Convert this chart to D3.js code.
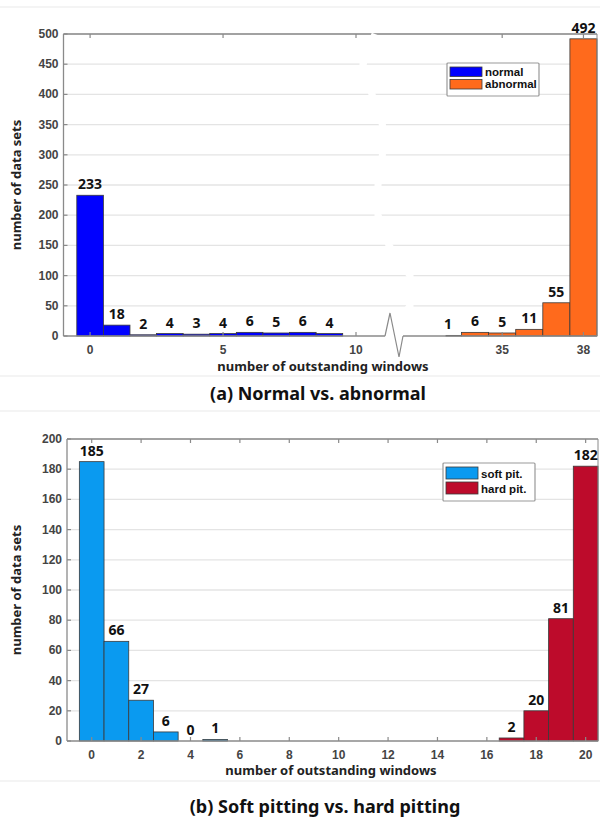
<!DOCTYPE html>
<html><head><meta charset="utf-8">
<script src="https://cdn.jsdelivr.net/npm/d3@7"></script>
<style>
body{margin:0;background:#fff;}
svg{display:block;font-family:"Noto Sans","Open Sans",sans-serif;}
</style></head>
<body><svg id="c" width="600" height="821"></svg>
<script>
// ---- Data: panel (a)
const normalBins = [0,1,2,3,4,5,6,7,8,9];
const normalCounts = [233,18,2,4,3,4,6,5,6,4];
const abnormalBins = [33,34,35,36,37,38];
const abnormalCounts = [1,6,5,11,55,492];
const aXTicks = [0,5,10,35,38];
const aYTicks = [0,50,100,150,200,250,300,350,400,450,500];
// ---- Data: panel (b)
const softBins = [0,1,2,3,4,5];
const softCounts = [185,66,27,6,0,1];
const hardBins = [17,18,19,20];
const hardCounts = [2,20,81,182];
const bXTicks = [0,2,4,6,8,10,12,14,16,18,20];
const bYTicks = [0,20,40,60,80,100,120,140,160,180,200];

const svg = d3.select("#c");
const GRID="#e4e4e4", AXIS="#8a8a8a", TICKTXT="#444", EDGE="#3a3a3a";
const tickFont = '"Liberation Sans",Arial,sans-serif';

// faint panel separators
[7,376,411,781].forEach(y=>svg.append("line").attr("x1",0).attr("x2",600).attr("y1",y).attr("y2",y)
  .attr("stroke","#f0f0f0").attr("stroke-width",1.5));

function panel(o){
  const g = svg.append("g");
  const {x,y,xTicks,yTicks,L,R,T,B} = o;
  g.selectAll(".grid").data(yTicks.filter(d=>d>0)).join("line")
    .attr("x1",L).attr("x2",R).attr("y1",d=>y(d)).attr("y2",d=>y(d))
    .attr("stroke",GRID).attr("stroke-width",1.3);
  o.series.forEach(s=>{
    g.selectAll(null).data(s.bins.map((b,i)=>({b,v:s.counts[i]}))).join("rect")
      .attr("x",d=>x(d.b-0.5)).attr("width",d=>x(d.b+0.5)-x(d.b-0.5))
      .attr("y",d=>y(d.v)).attr("height",d=>y(0)-y(d.v))
      .attr("fill",s.color).attr("stroke",EDGE).attr("stroke-width",0.8);
  });
  g.append("line").attr("x1",L).attr("x2",L).attr("y1",T).attr("y2",B).attr("stroke",AXIS).attr("stroke-width",1.3);
  g.append("line").attr("x1",L).attr("x2",R).attr("y1",B).attr("y2",B).attr("stroke",AXIS).attr("stroke-width",1.3);
  g.append("line").attr("x1",L).attr("x2",R).attr("y1",T).attr("y2",T).attr("stroke",AXIS).attr("stroke-width",1.3);
  g.append("line").attr("x1",R).attr("x2",R).attr("y1",T).attr("y2",B).attr("stroke",AXIS).attr("stroke-width",1);
  g.selectAll(null).data(xTicks).join("line").attr("x1",d=>x(d)).attr("x2",d=>x(d)).attr("y1",B).attr("y2",B-4).attr("stroke",AXIS).attr("stroke-width",1.2);
  g.selectAll(null).data(xTicks).join("line").attr("x1",d=>x(d)).attr("x2",d=>x(d)).attr("y1",T).attr("y2",T+4).attr("stroke",AXIS).attr("stroke-width",1.2);
  g.selectAll(null).data(yTicks).join("line").attr("x1",L).attr("x2",L+4).attr("y1",d=>y(d)).attr("y2",d=>y(d)).attr("stroke",AXIS).attr("stroke-width",1.2);
  g.selectAll(null).data(xTicks).join("text").attr("x",d=>x(d)).attr("y",B+18).attr("text-anchor","middle")
    .attr("font-family",tickFont).attr("font-weight","bold").attr("font-size",12).attr("fill",TICKTXT).text(d=>d);
  g.selectAll(null).data(yTicks).join("text").attr("x",L-5).attr("y",d=>y(d)+4).attr("text-anchor","end")
    .attr("font-family",tickFont).attr("font-weight","bold").attr("font-size",12).attr("fill",TICKTXT).text(d=>d);
  o.series.forEach(s=>{
    g.selectAll(null).data(s.bins.map((b,i)=>({b,v:s.counts[i]}))).join("text")
      .attr("x",d=>x(d.b)).attr("y",d=>y(d.v)-6).attr("text-anchor","middle")
      .attr("font-weight","bold").attr("font-size",14).attr("fill","#111").text(d=>d.v);
  });
  g.append("text").attr("transform",`translate(${o.ylx},${(T+B)/2}) rotate(-90)`).attr("text-anchor","middle")
    .attr("font-weight","bold").attr("font-size",13).attr("fill","#222").text("number of data sets");
  g.append("text").attr("x",o.xlx).attr("y",o.xly).attr("text-anchor","middle")
    .attr("font-weight","bold").attr("font-size",13).attr("fill","#222").text("number of outstanding windows");
  g.append("text").attr("x",o.tx).attr("y",o.ty).attr("text-anchor","middle")
    .attr("font-weight","bold").attr("font-size",18).attr("fill","#111").text(o.title);
  const lg = g.append("g").attr("transform",`translate(${o.lx},${o.ly})`);
  lg.append("rect").attr("width",o.lw).attr("height",o.lh).attr("fill","#fff").attr("stroke","#999").attr("stroke-width",1.2).attr("rx",1);
  o.series.forEach((s,i)=>{
    const yy = 4 + i*(o.lh-8)/2;
    const hh = (o.lh-8)/2 - 3;
    lg.append("rect").attr("x",3).attr("y",yy).attr("width",32).attr("height",hh).attr("fill",s.color).attr("stroke",EDGE).attr("stroke-width",0.8);
    lg.append("text").attr("x",38).attr("y",yy+hh-1).attr("font-family",tickFont).attr("font-weight","bold").attr("font-size",11.5).attr("fill","#111").text(s.name);
  });
  return g;
}

// Panel (a): broken x axis (polylinear scale)
const xa = d3.scaleLinear().domain([-1,10,33,38.5]).range([63.5,356,448,597]);
const ya = d3.scaleLinear().domain([0,500]).range([336,34]);
const ga = panel({x:xa,y:ya,xTicks:aXTicks,yTicks:aYTicks,L:63.5,R:597,T:34,B:336,
  series:[{name:"normal",color:"#0000ff",bins:normalBins,counts:normalCounts},
          {name:"abnormal",color:"#ff6a1c",bins:abnormalBins,counts:abnormalCounts}],
  ylx:21,xlx:323,xly:371,tx:318,ty:400,title:"(a) Normal vs. abnormal",
  lx:447,ly:63,lw:92,lh:33});
// axis break: white gap through the grid (y in data units, x in domain units)
const breakPath = [[500,14.75],[450,11.75],[400,14.0],[350,16.6],[300,16.6],[250,15.5],[200,15.5],[150,18.25],[100,23.5],[50,23.5],[25,21]];
ga.append("path").attr("d",d3.line().x(d=>xa(d[1])).y(d=>ya(d[0]))(breakPath))
  .attr("fill","none").attr("stroke","#fff").attr("stroke-width",7);
ga.append("rect").attr("x",xa(17.25)).attr("y",ya(0)-1.5).attr("width",xa(21.75)-xa(17.25)).attr("height",3).attr("fill","#fff");
const zig = [[17.25,0],[18.5,23],[20.75,-21],[21.75,0]];
ga.append("path").attr("d",d3.line().x(d=>xa(d[0])).y(d=>ya(0)-d[1])(zig))
  .attr("fill","none").attr("stroke",AXIS).attr("stroke-width",1.2);

// Panel (b)
const xb = d3.scaleLinear().domain([-1,20.5]).range([67,598]);
const yb = d3.scaleLinear().domain([0,200]).range([741,439]);
panel({x:xb,y:yb,xTicks:bXTicks,yTicks:bYTicks,L:67,R:598,T:439,B:741,
  series:[{name:"soft pit.",color:"#0a9af0",bins:softBins,counts:softCounts},
          {name:"hard pit.",color:"#bd0b2b",bins:hardBins,counts:hardCounts}],
  ylx:21,xlx:331,xly:775,tx:325,ty:813,title:"(b) Soft pitting vs. hard pitting",
  lx:443,ly:463,lw:92,lh:38});
</script></body></html>
